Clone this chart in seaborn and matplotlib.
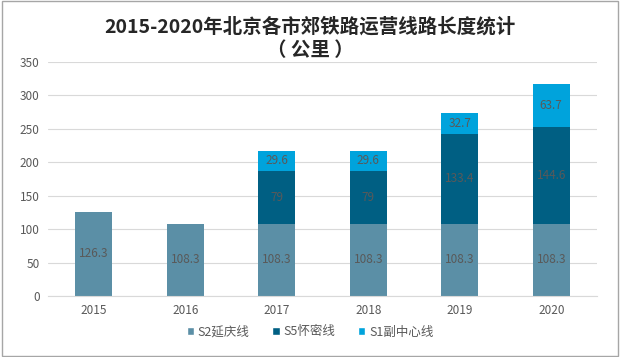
import numpy as np
import pandas as pd
import matplotlib.pyplot as plt
import seaborn as sns
from matplotlib.patches import Patch

years = ['2015', '2016', '2017', '2018', '2019', '2020']
s2_yanqing = [126.3, 108.3, 108.3, 108.3, 108.3, 108.3]
s5_huaimi = [0, 0, 79, 79, 133.4, 144.6]
s1_fuzhongxin = [0, 0, 29.6, 29.6, 32.7, 63.7]
series_names = ['S2延庆线', 'S5怀密线', 'S1副中心线']
colors = ['#5B8FA6', '#005F83', '#00A3DC']

sns.set_style('white')
plt.rcParams['font.family'] = ['Noto Sans CJK SC', 'DejaVu Sans']

s2 = np.array(s2_yanqing)
s5 = np.array(s5_huaimi)
s1 = np.array(s1_fuzhongxin)
layers = [s2, s2 + s5, s2 + s5 + s1]

fig = plt.figure(figsize=(6.2, 3.57), dpi=100)
ax = fig.add_axes([48 / 620, 1 - 296 / 357, 549 / 620, 234 / 357])

# draw cumulative totals from top down so lower layers cover upper ones
for top, col in reversed(list(zip(layers, colors))):
    df = pd.DataFrame({'year': years, 'value': top})
    sns.barplot(data=df, x='year', y='value', color=col, saturation=1,
                width=0.4, linewidth=0, ax=ax, zorder=2)

# segment labels
bottoms = [np.zeros(len(years)), s2, s2 + s5]
for vals, bot in zip([s2, s5, s1], bottoms):
    for i, v in enumerate(vals):
        if v > 0:
            ax.text(i, bot[i] + v / 2, f'{v:g}', ha='center', va='center',
                    fontsize=8.5, color='#595959', zorder=3)

ax.set_ylim(0, 350)
ax.set_yticks(range(0, 351, 50))
ax.set_xlim(-0.5, 5.5)
ax.yaxis.grid(True, color='#D9D9D9', linewidth=0.8, zorder=0)
ax.set_axisbelow(True)
for side in ['left', 'right', 'top']:
    ax.spines[side].set_visible(False)
ax.spines['bottom'].set_color('#D9D9D9')
ax.tick_params(axis='both', length=0, labelsize=8.5, colors='#595959', pad=6)
ax.set_xlabel('')
ax.set_ylabel('')

fig.text(0.5, 1 - 27 / 357, '2015-2020年北京各市郊铁路运营线路长度统计',
         ha='center', va='center', fontsize=14, fontweight='bold', color='#262626')
fig.text(0.5, 1 - 51 / 357, '（ 公里 ）', ha='center', va='center',
         fontsize=14, fontweight='bold', color='#262626')

handles = [Patch(facecolor=c, label=n) for c, n in zip(colors, series_names)]
fig.legend(handles=handles, loc='center', bbox_to_anchor=(0.5, 1 - 332 / 357),
           ncol=3, frameon=False, fontsize=9, handlelength=0.6,
           handleheight=0.6, handletextpad=0.3, columnspacing=1.8,
           labelcolor='#595959')

# outer border
fig.patches.append(plt.Rectangle((0.003, 0.004), 0.994, 0.992, transform=fig.transFigure,
                                 fill=False, edgecolor='#A6A6A6', linewidth=1))

fig.savefig('out.png', dpi=100)
